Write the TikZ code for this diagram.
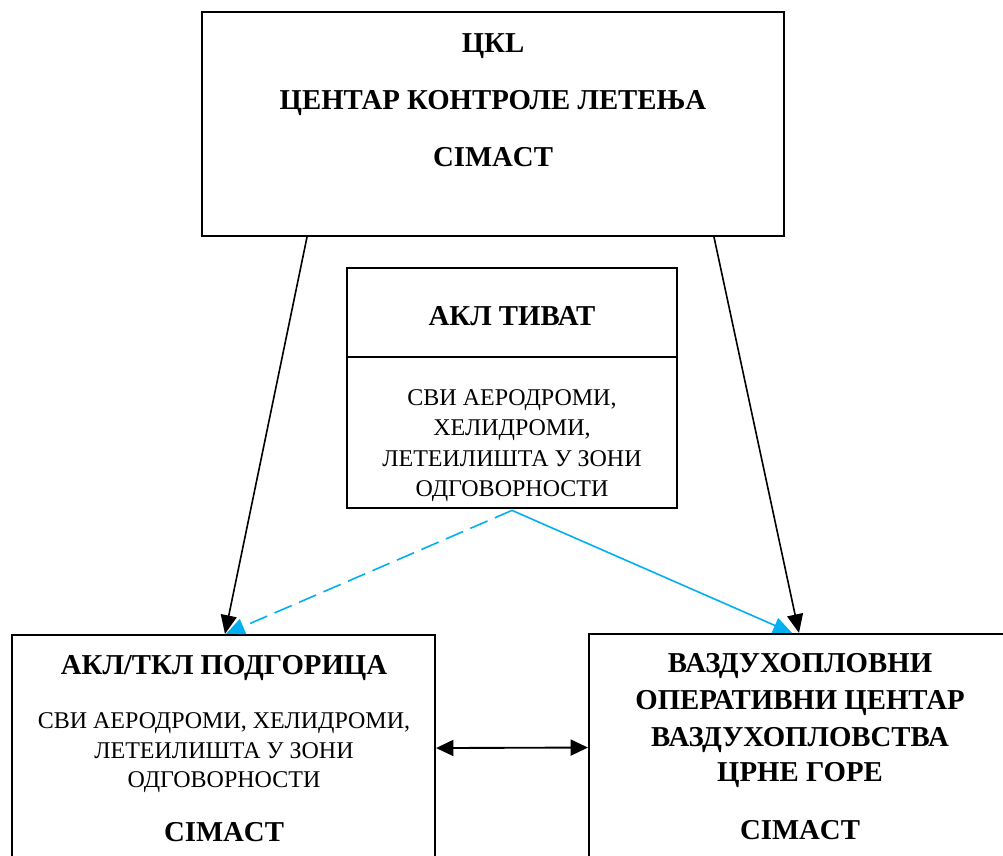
\documentclass[tikz,border=0pt]{standalone}
\usepackage{fontspec}
\setmainfont{Liberation Serif}
\usetikzlibrary{arrows.meta}
\definecolor{skyb}{HTML}{00B0F0}
\tikzset{
  box/.style={draw=black, line width=1.6pt, inner sep=0pt, fill=white},
  btxt/.style={anchor=base, inner sep=0pt, font=\fontsize{21.6}{26}\selectfont\bfseries},
  rtxt/.style={anchor=base, inner sep=0pt, font=\fontsize{18}{22}\selectfont},
  blk/.style={draw=black, line width=1.2pt, -{Triangle[length=14pt,width=12pt]}},
  dbl/.style={draw=black, line width=1.4pt, {Triangle[length=13pt,width=12pt]}-{Triangle[length=13pt,width=12pt]}},
  blu/.style={draw=skyb, line width=1.2pt, -{Triangle[length=14pt,width=12pt]}},
}
\begin{document}
\begin{tikzpicture}[x=0.75pt,y=-0.75pt]
\clip (0,0) rectangle (1003,856);
\fill[white] (0,0) rectangle (1003,856);
% boxes
\node[box, minimum width=436.5pt, minimum height=168pt] (ckl) at (493,124) {};
\node[box, minimum width=247.5pt, minimum height=180pt] (tiv) at (512,388) {};
\node[box, minimum width=317.25pt, minimum height=198.75pt] (pod) at (223.5,767.5) {};
\node[box, minimum width=319.5pt, minimum height=199.5pt] (voc) at (802,767) {};
\draw[line width=1.6pt] ([yshift=-67.5pt]tiv.north west) -- ([yshift=-67.5pt]tiv.north east);
% top box text
\node[btxt] (t1) at (493,52.5) {ЦКL};
\node[btxt] (t2) at (493,109.5) {ЦЕНТАР КОНТРОЛЕ ЛЕТЕЊА};
\node[btxt] (t3) at (493,166.5) {CIMACT};
% middle box text
\node[btxt] (m1) at (512,325.5) {АКЛ ТИВАТ};
\node[rtxt] (m2) at (512,405) {СВИ АЕРОДРОМИ,};
\node[rtxt] (m3) at (512,435) {ХЕЛИДРОМИ,};
\node[rtxt] (m4) at (512,466) {ЛЕТЕИЛИШТА У ЗОНИ};
\node[rtxt] (m5) at (512,496) {ОДГОВОРНОСТИ};
% left box text
\node[btxt] (l1) at (224,674.5) {АКЛ/ТКЛ ПОДГОРИЦА};
\node[rtxt] (l2) at (224,728) {СВИ АЕРОДРОМИ, ХЕЛИДРОМИ,};
\node[rtxt] (l3) at (224,758) {ЛЕТЕИЛИШТА У ЗОНИ};
\node[rtxt] (l4) at (224,787) {ОДГОВОРНОСТИ};
\node[btxt] (l5) at (224,841.5) {CIMACT};
% right box text
\node[btxt] (r1) at (800,672.5) {ВАЗДУХОПЛОВНИ};
\node[btxt] (r2) at (800,709.5) {ОПЕРАТИВНИ ЦЕНТАР};
\node[btxt] (r3) at (800,746.5) {ВАЗДУХОПЛОВСТВА};
\node[btxt] (r4) at (800,781.5) {ЦРНЕ ГОРЕ};
\node[btxt] (r5) at (800,839.5) {CIMACT};
% connectors
\draw[blk] ([xshift=-139.5pt]ckl.south) -- ([xshift=1.1pt]pod.north);
\draw[blk] ([xshift=165.75pt]ckl.south) -- ([xshift=-2.25pt]voc.north);
\draw[blu, dash pattern=on 14pt off 6pt] ([yshift=-1pt]tiv.south) -- ([xshift=1.8pt]pod.north);
\draw[blu] ([yshift=-1pt]tiv.south) -- ([xshift=-7.5pt]voc.north);
\draw[dbl] ([yshift=14.6pt]pod.east) -- ([yshift=14.6pt]voc.west);
\end{tikzpicture}
\end{document}
